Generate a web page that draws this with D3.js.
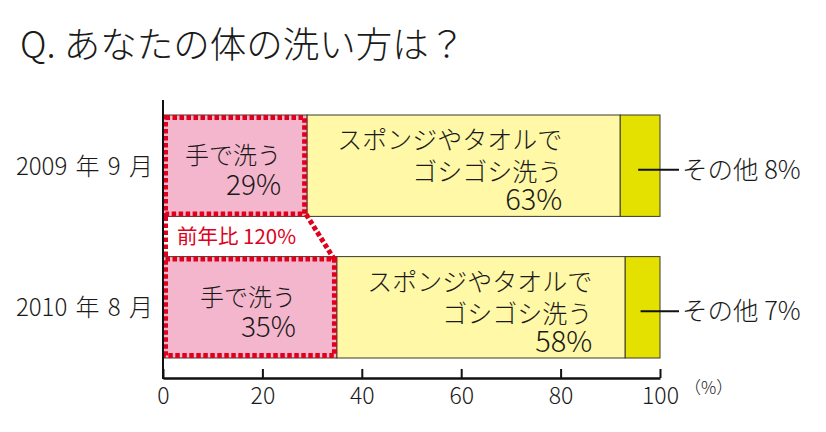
<!DOCTYPE html>
<html><head><meta charset="utf-8">
<script src="https://cdn.jsdelivr.net/npm/d3@7"></script>
<style>
body{margin:0;background:#fff;}
text{font-family:"Noto Sans CJK JP","Noto Sans",sans-serif;fill:#1a1a1a;font-weight:300;}
</style></head>
<body><svg id="c" width="826" height="432"></svg>
<script>
const title = "Q. あなたの体の洗い方は？";
const categories = ["2009 年 9 月", "2010 年 8 月"];
const handWash = [29, 35];
const sponge = [63, 58];
const other = [8, 7];
const tickValues = [0, 20, 40, 60, 80, 100];
const handLabel = "手で洗う";
const spongeLabel = ["スポンジやタオルで", "ゴシゴシ洗う"];
const otherLabel = "その他";
const ratioLabel = "前年比 120%";
const unitLabel = "（%）";

const svg = d3.select("#c");
const x = d3.scaleLinear().domain([0, 100]).range([163, 660]);
const y = d3.scaleBand().domain(categories).range([115, 358]).paddingInner(0.284).paddingOuter(0);
const bw = y.bandwidth();
const red = "#e0001b";
const spongeShift = [-58, -33];

svg.append("text").attr("x", 20).attr("y", 58).attr("font-size", 36.5).text(title);

const rows = categories.map((c, i) => ({c, i, h: handWash[i], s: sponge[i], o: other[i]}));

const g = svg.append("g");
rows.forEach(r => {
  const y0 = y(r.c);
  const segs = [
    {a: 0, b: r.h, fill: "#f4b6cd"},
    {a: r.h, b: r.h + r.s, fill: "#fff8a6"},
    {a: r.h + r.s, b: 100, fill: "#e4e000"}
  ];
  g.selectAll(null).data(segs).enter().append("rect")
    .attr("x", d => x(d.a)).attr("y", y0)
    .attr("width", d => x(d.b) - x(d.a)).attr("height", bw)
    .attr("fill", d => d.fill).attr("stroke", "#3a3a2a").attr("stroke-width", 1);
});

// red dotted outline
const dash = {"stroke": red, "stroke-width": 5, "fill": "none", "stroke-dasharray": "4.5,2.5"};
function dotted(sel) { Object.entries(dash).forEach(([k, v]) => sel.attr(k, v)); return sel; }
rows.forEach(r => {
  dotted(svg.append("rect").attr("x", x(0) + 2.5).attr("y", y(r.c) + 2.5)
    .attr("width", x(r.h) - x(0) - 5).attr("height", bw - 5));
});
const b1 = y(categories[0]) + bw, t2 = y(categories[1]);
dotted(svg.append("path").attr("d",
  `M${x(0) + 2.5},${b1} L${x(0) + 2.5},${t2}`));
dotted(svg.append("path").attr("d",
  `M${x(handWash[0]) - 1},${b1 - 2} L${x(handWash[1]) - 2.5},${t2 + 3}`));

svg.append("text").attr("x", x(0) + 14).attr("y", (b1 + t2) / 2 + 7)
  .attr("font-size", 20.5).style("fill", red).style("font-weight", 400).text(ratioLabel);

// labels inside bars
rows.forEach(r => {
  const y0 = y(r.c);
  const cx = (x(0) + x(r.h)) / 2;
  svg.append("text").attr("x", cx - 2).attr("y", y0 + 49).attr("text-anchor", "middle")
    .attr("font-size", 24).text(handLabel);
  svg.append("text").attr("x", cx + 46).attr("y", y0 + 80).attr("text-anchor", "end")
    .attr("font-size", 28).text(r.h + "%");
  const rx = x(r.h + r.s) + spongeShift[r.i];
  const t = svg.append("text").attr("text-anchor", "end").attr("font-size", 25);
  t.append("tspan").attr("x", rx).attr("y", y0 + 34).text(spongeLabel[0]);
  t.append("tspan").attr("x", rx).attr("y", y0 + 66).text(spongeLabel[1]);
  t.append("tspan").attr("x", rx).attr("y", y0 + 95).attr("font-size", 29).text(r.s + "%");
  // other leader
  const my = y0 + bw / 2 + 4;
  svg.append("line").attr("x1", x(100 - r.o / 2) - 2).attr("x2", x(100) + 19)
    .attr("y1", my).attr("y2", my).attr("stroke", "#111").attr("stroke-width", 2);
  svg.append("text").attr("x", x(100) + 22).attr("y", my + 9).attr("font-size", 25.5)
    .text(otherLabel + " " + r.o + "%");
  // category label
  svg.append("text").attr("x", 153).attr("y", y0 + bw / 2 + 9).attr("text-anchor", "end")
    .attr("font-size", 24).attr("word-spacing", 3).text(r.c);
});

// axis
const axis = d3.axisBottom(x).tickValues(tickValues).tickSizeInner(-9).tickSizeOuter(0).tickPadding(8);
const ax = svg.append("g").attr("transform", "translate(0,378)").call(axis);
ax.select(".domain").attr("stroke", "#111").attr("stroke-width", 2.5);
ax.selectAll(".tick line").attr("stroke", "#111").attr("stroke-width", 2);
ax.selectAll(".tick text").attr("font-size", 23).style("font-family", "'Noto Sans CJK JP',sans-serif").style("font-weight", 300).attr("fill", "#1a1a1a").attr("dy", "0.78em");
svg.append("line").attr("x1", x(0)).attr("x2", x(0)).attr("y1", 100).attr("y2", 379)
  .attr("stroke", "#111").attr("stroke-width", 2);
svg.append("text").attr("x", x(100) + 24).attr("y", 394).attr("font-size", 17).text(unitLabel);
</script></body></html>
